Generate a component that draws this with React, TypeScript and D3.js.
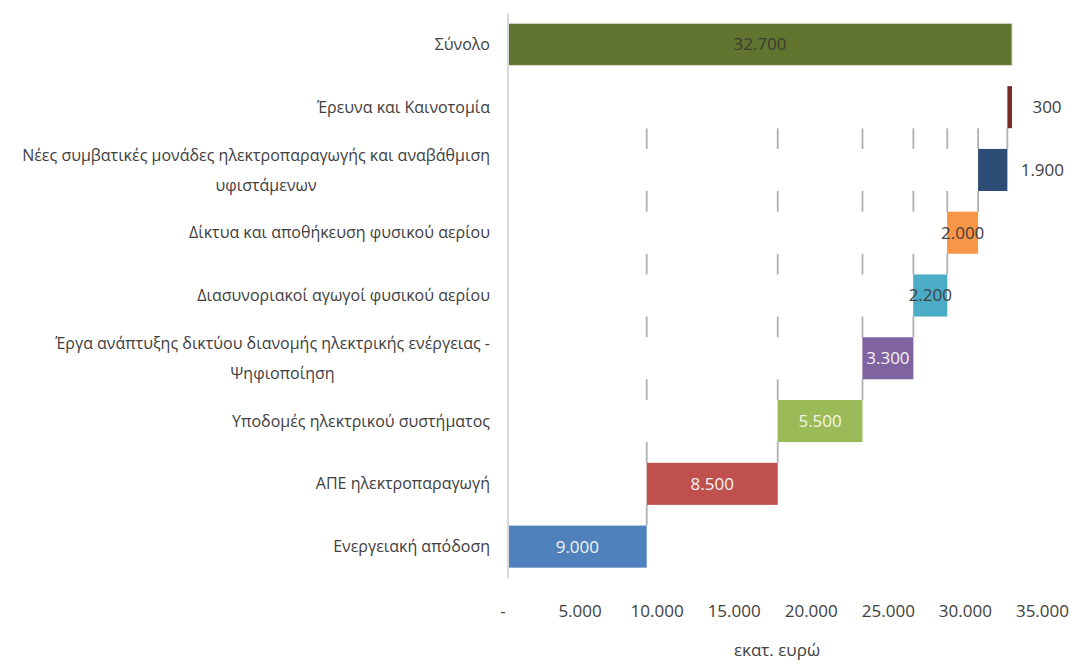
import React, { useEffect, useRef } from "react";
import * as d3 from "d3";

// ---- data (bottom to top, in waterfall order) ----
const categories: string[][] = [
  ["Ενεργειακή απόδοση"],
  ["ΑΠΕ ηλεκτροπαραγωγή"],
  ["Υποδομές ηλεκτρικού συστήματος"],
  ["Έργα ανάπτυξης δικτύου διανομής ηλεκτρικής ενέργειας -", "Ψηφιοποίηση"],
  ["Διασυνοριακοί αγωγοί φυσικού αερίου"],
  ["Δίκτυα και αποθήκευση φυσικού αερίου"],
  ["Νέες συμβατικές μονάδες ηλεκτροπαραγωγής και αναβάθμιση", "υφιστάμενων"],
  ["Έρευνα και Καινοτομία"],
];
const values: number[] = [9000, 8500, 5500, 3300, 2200, 2000, 1900, 300];
const totalCategory: string[] = ["Σύνολο"];
const totalValue = 32700;
const xTicks: number[] = [0, 5000, 10000, 15000, 20000, 25000, 30000, 35000];
const xAxisTitle = "εκατ. ευρώ";

// ---- styles ----
const barColors = ["#4f81bd", "#c0504d", "#9bbb59", "#8064a2", "#4bacc6", "#f79646", "#2d4d76", "#772c2a"];
const labelColors = ["#f4f4f4", "#f4f4f4", "#f6f6e6", "#f4f4f4", "#404040", "#404040", "#404040", "#404040"];
const labelOutside = [false, false, false, false, false, false, true, true];
const totalColor = "#617530";
const FONT = "'Open Sans', 'Noto Sans', sans-serif";

export default function App() {
  const ref = useRef<SVGSVGElement | null>(null);

  useEffect(() => {
    const svg = d3.select(ref.current);
    svg.selectAll("*").remove();

    const loc = d3.formatLocale({ decimal: ",", thousands: ".", grouping: [3], currency: ["", "€"] });
    const fmt = loc.format(",");

    const x = d3.scaleLinear().domain([0, 35000]).range([508, 508 + (504 / 32700) * 35000]);

    // rows top to bottom
    const rowKeys = ["total", ...categories.map((_, i) => `c${i}`).reverse()];
    const y = d3.scaleBand<string>().domain(rowKeys).range([13, 578]).paddingInner(0.33).paddingOuter(0.165);
    const bw = y.bandwidth();

    const ends = d3.cumsum(values);
    const starts = values.map((_, i) => (i === 0 ? 0 : ends[i - 1]));

    // connector lines
    const topY = (y(`c${categories.length - 1}`) as number) + bw;
    const g = svg.append("g");
    g.selectAll("line.conn")
      .data(ends.slice(0, values.length - 1))
      .join("line")
      .attr("x1", (d) => x(d))
      .attr("x2", (d) => x(d))
      .attr("y1", topY)
      .attr("y2", (_, i) => y(`c${i}`) as number)
      .attr("stroke", "#b0b0b0")
      .attr("stroke-width", 1.8);

    // white base bars (hide connectors)
    g.selectAll("rect.base")
      .data(starts)
      .join("rect")
      .attr("x", x(0))
      .attr("width", (d) => Math.max(0, x(d) - x(0)))
      .attr("y", (_, i) => y(`c${i}`) as number)
      .attr("height", bw)
      .attr("fill", "#ffffff");

    // total bar
    g.append("rect")
      .attr("x", x(0))
      .attr("width", x(totalValue) - x(0))
      .attr("y", y("total") as number)
      .attr("height", bw)
      .attr("fill", totalColor)
      .attr("stroke", "#d6dccb")
      .attr("stroke-width", 1);

    // value bars
    g.selectAll("rect.val")
      .data(values)
      .join("rect")
      .attr("x", (_, i) => x(starts[i]))
      .attr("width", (_, i) => x(ends[i]) - x(starts[i]))
      .attr("y", (_, i) => y(`c${i}`) as number)
      .attr("height", bw)
      .attr("fill", (_, i) => barColors[i]);

    // axis line
    g.append("line")
      .attr("x1", x(0))
      .attr("x2", x(0))
      .attr("y1", 13)
      .attr("y2", 578)
      .attr("stroke", "#d9d9d9")
      .attr("stroke-width", 2);

    // value labels
    g.append("text")
      .attr("x", (x(0) + x(totalValue)) / 2)
      .attr("y", (y("total") as number) + bw / 2)
      .attr("dy", "0.35em")
      .attr("text-anchor", "middle")
      .attr("font-family", FONT)
      .attr("font-size", 17)
      .attr("fill", "#3c3c30")
      .text(fmt(totalValue));

    g.selectAll("text.val")
      .data(values)
      .join("text")
      .attr("x", (_, i) => (labelOutside[i] ? x(ends[i]) + 35 : (x(starts[i]) + x(ends[i])) / 2))
      .attr("y", (_, i) => (y(`c${i}`) as number) + bw / 2)
      .attr("dy", "0.35em")
      .attr("text-anchor", "middle")
      .attr("font-family", FONT)
      .attr("font-size", 17)
      .attr("fill", (_, i) => labelColors[i])
      .text((d) => fmt(d));

    // category labels
    const allCats = [{ key: "total", lines: totalCategory }, ...categories.map((c, i) => ({ key: `c${i}`, lines: c }))];
    const rightX = 490;
    const lineH = 30;
    allCats.forEach((c) => {
      const cy = (y(c.key) as number) + bw / 2;
      const n = c.lines.length;
      const first = g
        .append("text")
        .attr("x", rightX)
        .attr("y", cy - ((n - 1) * lineH) / 2)
        .attr("dy", "0.35em")
        .attr("text-anchor", "end")
        .attr("font-family", FONT)
        .attr("font-size", 16)
        .attr("fill", "#404040")
        .text(c.lines[0]);
      if (n > 1) {
        const w = (first.node() as SVGTextElement).getComputedTextLength();
        const center = rightX - w / 2 + 10;
        for (let k = 1; k < n; k++) {
          g.append("text")
            .attr("x", center)
            .attr("y", cy - ((n - 1) * lineH) / 2 + k * lineH)
            .attr("dy", "0.35em")
            .attr("text-anchor", "middle")
            .attr("font-family", FONT)
            .attr("font-size", 16)
            .attr("fill", "#404040")
            .text(c.lines[k]);
        }
      }
    });

    // x tick labels
    g.selectAll("text.tick")
      .data(xTicks)
      .join("text")
      .attr("x", (d) => x(d) - 5)
      .attr("y", 611)
      .attr("dy", "0.35em")
      .attr("text-anchor", "middle")
      .attr("font-family", FONT)
      .attr("font-size", 17)
      .attr("fill", "#404040")
      .text((d) => (d === 0 ? "-" : fmt(d)));

    // axis title
    g.append("text")
      .attr("x", 777)
      .attr("y", 650)
      .attr("dy", "0.35em")
      .attr("text-anchor", "middle")
      .attr("font-family", FONT)
      .attr("font-size", 17)
      .attr("fill", "#404040")
      .text(xAxisTitle);
  }, []);

  return (
    <div style={{ position: "absolute", left: 0, top: 0 }}>
      <svg ref={ref} width={1070} height={664} style={{ display: "block", background: "#ffffff" }} />
    </div>
  );
}
